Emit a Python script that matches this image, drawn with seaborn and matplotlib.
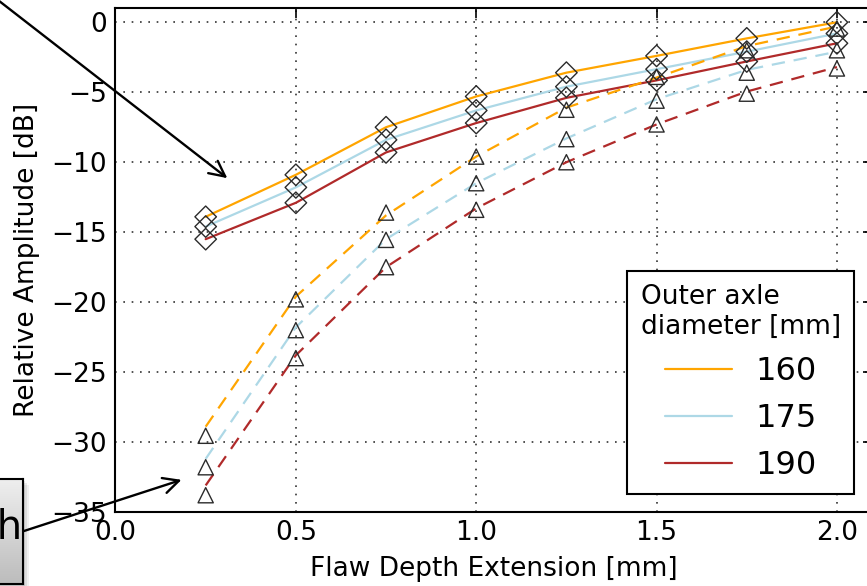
import numpy as np
import pandas as pd
import matplotlib
matplotlib.use("Agg")
import matplotlib.pyplot as plt
import seaborn as sns
from matplotlib.colors import LinearSegmentedColormap
from matplotlib.patches import Rectangle
from matplotlib.transforms import offset_copy

# ---- data -------------------------------------------------------------
depth_mm = [0.25, 0.5, 0.75, 1.0, 1.25, 1.5, 1.75, 2.0]
diameters = ["160", "175", "190"]
line_colors = ["#FFA500", "#ADD8E6", "#B02A2A"]

# measured amplitudes, first flaw type (diamonds, solid lines)
diamond_160 = [-13.9, -10.9, -7.5, -5.3, -3.6, -2.4, -1.15, 0.0]
diamond_175 = [-14.6, -11.8, -8.4, -6.3, -4.6, -3.35, -2.1, -0.8]
diamond_190 = [-15.5, -12.9, -9.3, -7.2, -5.4, -4.15, -2.8, -1.5]

# measured amplitudes, second flaw type (triangles)
triangle_160 = [-29.55, -19.8, -13.6, -9.6, -6.25, -3.9, -2.0, -0.45]
triangle_175 = [-31.8, -22.0, -15.55, -11.5, -8.35, -5.6, -3.6, -2.0]
triangle_190 = [-33.8, -24.0, -17.5, -13.4, -10.0, -7.3, -5.1, -3.3]

# trend curves for the second flaw type (dashed lines)
trend_160 = [-28.9, -19.6, -13.8, -9.6, -6.1, -3.95, -1.7, -0.3]
trend_175 = [-31.2, -21.8, -15.5, -11.5, -8.3, -5.5, -3.4, -2.1]
trend_190 = [-33.1, -23.8, -17.5, -13.3, -10.0, -7.3, -4.95, -3.2]

x_ticks = [0.0, 0.5, 1.0, 1.5, 2.0]
y_ticks = [-35, -30, -25, -20, -15, -10, -5, 0]


def long_form(series):
    rows = []
    for dia, vals in zip(diameters, series):
        for d, v in zip(depth_mm, vals):
            rows.append({"depth": d, "amp": v, "diameter": dia})
    return pd.DataFrame(rows)


df_diamond = long_form([diamond_160, diamond_175, diamond_190])
df_triangle = long_form([triangle_160, triangle_175, triangle_190])
df_trend = long_form([trend_160, trend_175, trend_190])
palette = dict(zip(diameters, line_colors))

# ---- style ------------------------------------------------------------
sns.set_style("white")
plt.rcParams["font.family"] = ["DejaVu Sans"]
plt.rcParams.update({
    "text.color": "black",
    "axes.labelcolor": "black",
    "xtick.color": "black",
    "ytick.color": "black",
    "legend.title_fontsize": 19,
})

W, H = 867, 586
fig = plt.figure(figsize=(W / 100, H / 100), dpi=100)
fig.patch.set_facecolor("white")
ax = fig.add_axes([115.5 / W, (H - 512) / H, (873 - 115.5) / W, (512 - 8.3) / H])

sns.lineplot(data=df_diamond, x="depth", y="amp", hue="diameter",
             hue_order=diameters, palette=palette, lw=1.6, ax=ax,
             legend=False, estimator=None, sort=False, zorder=3)
sns.lineplot(data=df_trend, x="depth", y="amp", hue="diameter",
             hue_order=diameters, palette=palette, lw=1.6, ax=ax,
             legend=False, estimator=None, sort=False,
             linestyle=(0, (6, 4)), zorder=3)
sns.scatterplot(data=df_diamond, x="depth", y="amp", marker="D", s=120,
                facecolor="none", edgecolor="#2b2b2b", linewidth=1.0,
                ax=ax, legend=False, zorder=4)
sns.scatterplot(data=df_triangle, x="depth", y="amp", marker="^", s=120,
                facecolor="none", edgecolor="#2b2b2b", linewidth=1.0,
                ax=ax, legend=False, zorder=4)

ax.set_xlim(0, 2.1)
ax.set_ylim(-35, 1)
ax.set_xticks(x_ticks)
ax.set_xticklabels([f"{t:.1f}" for t in x_ticks])
ax.set_yticks(y_ticks)
ax.grid(True, color="#333333", linestyle=(0, (1, 4)), linewidth=1.2)
ax.set_axisbelow(True)
for sp in ax.spines.values():
    sp.set_color("black")
    sp.set_linewidth(1.5)
ax.tick_params(direction="in", length=7, width=1.2, top=True, right=True,
               colors="black", labelcolor="black", pad=6)
ax.tick_params(axis="x", labelsize=19)
ax.tick_params(axis="y", labelsize=19)
ax.set_xlabel("Flaw Depth Extension [mm]", fontsize=19, labelpad=7,
              color="black")
ax.set_ylabel("Relative Amplitude [dB]", fontsize=19, labelpad=8,
              color="black")

solid_lines = ax.lines[:3]
leg = ax.legend(handles=solid_lines, labels=diameters,
                title="Outer axle\ndiameter [mm]", title_fontsize=19,
                fontsize=23, loc="lower right",
                bbox_to_anchor=(854.3 / W, (H - 494.3) / H),
                bbox_transform=fig.transFigure, borderaxespad=0,
                frameon=True, fancybox=False, framealpha=1,
                edgecolor="black", handlelength=2.1, handletextpad=0.75,
                labelspacing=0.5, borderpad=0.42)
leg.get_frame().set_linewidth(1.5)
leg.get_title().set_color("black")
for t in leg.get_texts():
    t.set_color("black")

# ---- annotations ------------------------------------------------------
arrow_kw = dict(arrowstyle="->", color="black", lw=1.7, mutation_scale=28,
                shrinkA=0, shrinkB=0)
ax.annotate("", xy=(0.31, -11.14), xycoords="data",
            xytext=(-100, 662), textcoords="figure pixels",
            arrowprops=arrow_kw, annotation_clip=False)
ax.annotate("", xy=(0.183, -32.7), xycoords="data",
            xytext=(24, 55), textcoords="figure pixels",
            arrowprops=arrow_kw, annotation_clip=False)

# label box with a soft shadow and a vertical grey gradient
for i, a in enumerate([0.10, 0.08, 0.06]):
    off = 2 + 2 * i
    fig.patches.append(Rectangle(((-150 + off) / W, (2 - off) / H),
                                 173.3 / W, 105 / H,
                                 transform=fig.transFigure, facecolor="black",
                                 edgecolor="none", alpha=a, zorder=-1))
box_ax = fig.add_axes([-150 / W, 2 / H, 173.3 / W, 105 / H])
grad = np.linspace(0, 1, 256).reshape(-1, 1)
cmap = LinearSegmentedColormap.from_list("box", ["#efefef", "#bcbcbc"])
box_ax.imshow(grad, cmap=cmap, aspect="auto", extent=[0, 1, 0, 1],
              origin="upper")
box_ax.set_xticks([])
box_ax.set_yticks([])
for sp in box_ax.spines.values():
    sp.set_color("black")
    sp.set_linewidth(1.5)
box_ax.text(1, 0.438, "Notch",
            transform=offset_copy(box_ax.transAxes, fig=fig, x=-1, y=0,
                                  units="dots"),
            ha="right", va="baseline", fontsize=29, color="black")

fig.savefig("out.png", dpi=100)
